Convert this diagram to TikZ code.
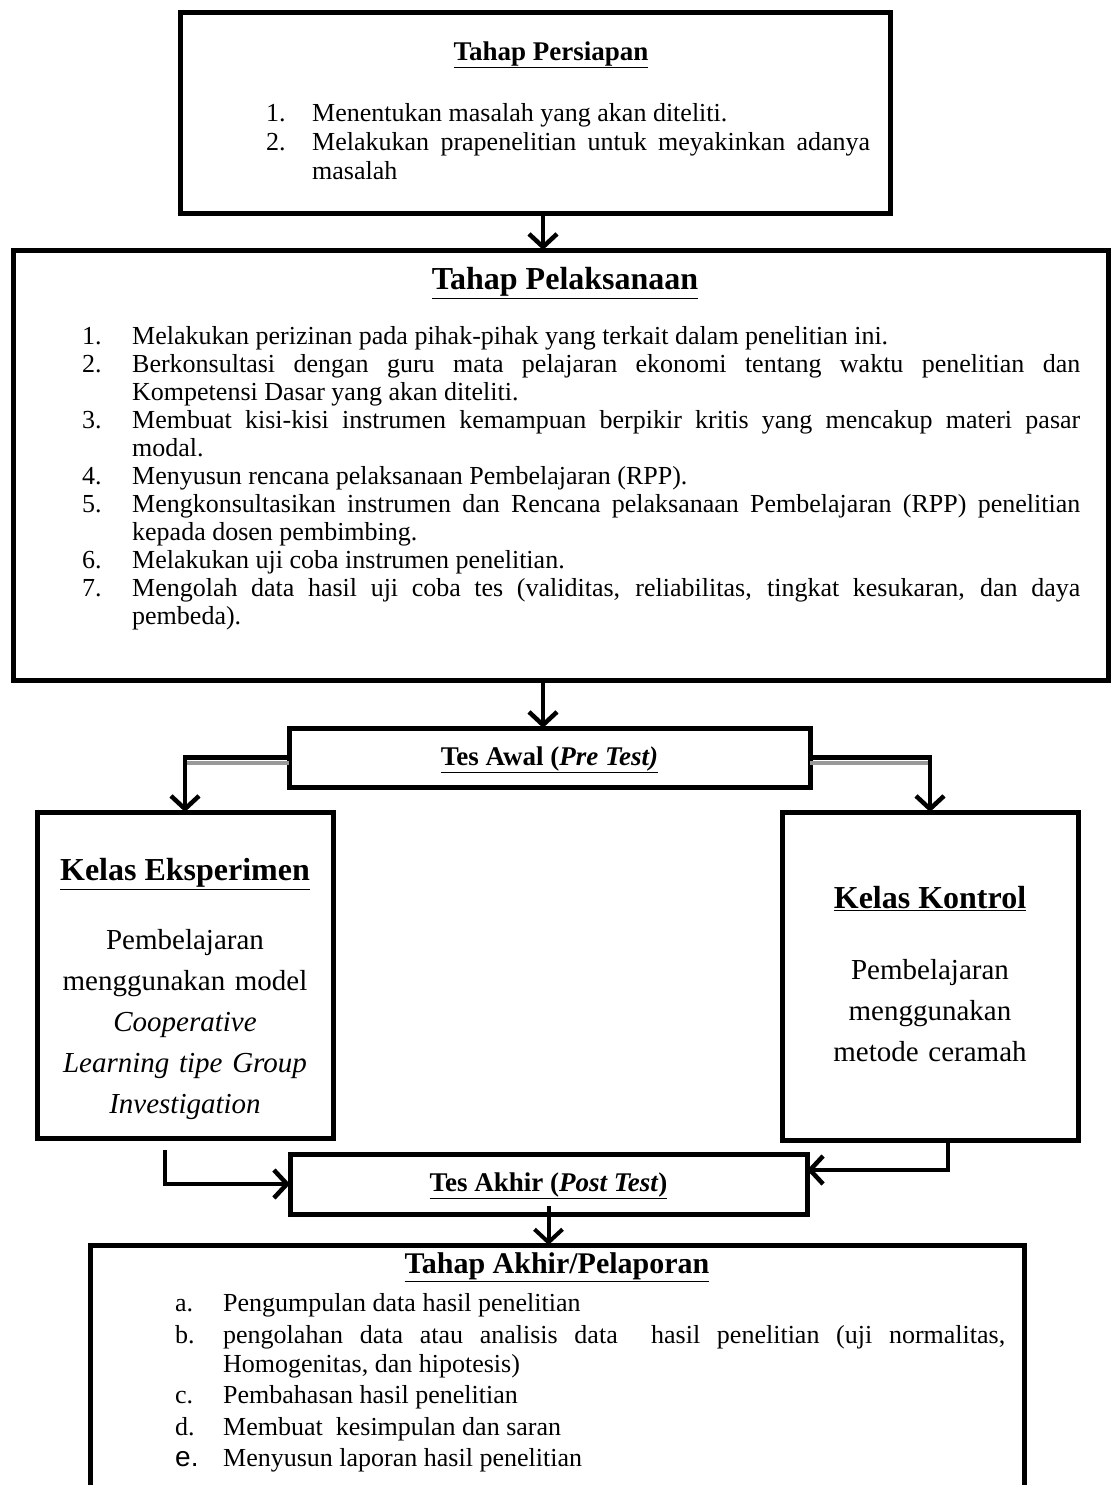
\documentclass[tikz,border=0pt]{standalone}
\usepackage{fontspec}
\setmainfont{Liberation Serif}
\newfontfamily\labelfont{Liberation Sans}
\usetikzlibrary{positioning, arrows.meta}
\hyphenpenalty=10000
\exhyphenpenalty=10000
\newlength\itmind
\newcommand{\itm}[2]{\par\noindent\hangindent=\itmind\hangafter=1\makebox[\itmind][l]{#1}#2}

\begin{document}
\begin{tikzpicture}[x=1pt, y=-1pt,
  bx/.style={draw, line width=5pt, inner sep=0pt, outer sep=0pt, anchor=north west},
  hd/.style={inner sep=0pt, font=\fontsize{27}{30}\selectfont\bfseries},
  bighd/.style={inner sep=0pt, font=\fontsize{32}{35}\selectfont\bfseries},
  lst/.style={inner sep=0pt, anchor=base west, align=justify, font=\fontsize{26}{28}\selectfont},
  body/.style={inner sep=0pt, anchor=north, align=center, font=\fontsize{29}{41}\selectfont},
  arr/.style={line width=4.5pt, -{Straight Barb[length=13pt, width=28pt]}},
  shd/.style={draw=black!40, line width=4pt}]
\useasboundingbox (0,0) rectangle (1113,1485);

% boxes
\node[bx, minimum width=710pt, minimum height=200pt] at (180,13) (prep) {};
\node[bx, minimum width=1095pt, minimum height=430pt] at (13,250) (plk) {};
\node[bx, minimum width=521pt, minimum height=59pt] at (289,728) (tesawal) {};
\node[bx, minimum width=296pt, minimum height=326pt] at (37,812) (eks) {};
\node[bx, minimum width=296pt, minimum height=328pt] at (782,812) (kon) {};
\node[bx, minimum width=517pt, minimum height=60pt] at (290,1154) (tesakhir) {};
\node[bx, minimum width=934pt, minimum height=260pt] at (90,1245) (akhir) {};

% Tahap Persiapan
\node[hd] at (551,55) (prephd) {\underline{Tahap Persiapan}};
\node[lst, text width=604pt, font=\fontsize{26}{29}\selectfont] at (266,93) (preplst) {\setlength\itmind{46pt}%
  \itm{1.}{Menentukan masalah yang akan diteliti.}
  \itm{2.}{Melakukan prapenelitian untuk meyakinkan adanya\linebreak masalah}\par};

% Tahap Pelaksanaan
\node[bighd] at (565,283) (plkhd) {\underline{Tahap Pelaksanaan}};
\node[lst, text width=998pt] at (82,316) (plklst) {\setlength\itmind{50pt}%
  \itm{1.}{Melakukan perizinan pada pihak-pihak yang terkait dalam penelitian ini.}
  \itm{2.}{Berkonsultasi dengan guru mata pelajaran ekonomi tentang waktu penelitian dan\linebreak Kompetensi Dasar yang akan diteliti.}
  \itm{3.}{Membuat kisi-kisi instrumen kemampuan berpikir kritis yang mencakup materi pasar\linebreak modal.}
  \itm{4.}{Menyusun rencana pelaksanaan Pembelajaran (RPP).}
  \itm{5.}{Mengkonsultasikan instrumen dan Rencana pelaksanaan Pembelajaran (RPP) penelitian\linebreak kepada dosen pembimbing.}
  \itm{6.}{Melakukan uji coba instrumen penelitian.}
  \itm{7.}{Mengolah data hasil uji coba tes (validitas, reliabilitas, tingkat kesukaran, dan daya\linebreak pembeda).}\par};

% tes awal / akhir
\node[hd] at ([yshift=-2pt]tesawal.center) (awalhd) {\underline{Tes Awal (\textit{Pre Test)}}};
\node[hd] at ([yshift=-2pt]tesakhir.center) (akhirhd) {\underline{Tes Akhir (\textit{Post Test})}};

% kelas
\node[bighd] at (185,874) (ekshd) {\underline{Kelas Eksperimen}};
\node[body, text width=290pt] at (185,929) (eksbody) {Pembelajaran\\ menggunakan model\\ \textit{Cooperative}\\ \textit{Learning tipe Group}\\ \textit{Investigation}};
\node[bighd] at (930,899) (konhd) {\underline{Kelas Kontrol}};
\node[body, text width=290pt] at (930,959) (konbody) {Pembelajaran\\ menggunakan\\ metode ceramah};

% Tahap Akhir
\node[bighd, font=\fontsize{30}{33}\selectfont\bfseries] at (557,1267) (akhirhd2) {\underline{Tahap Akhir/Pelaporan}};
\node[lst, text width=830pt, font=\fontsize{26}{29}\selectfont] at (175,1280) (akhirlst) {\setlength\itmind{48pt}\setlength\parskip{2.5pt}%
  \itm{a.}{Pengumpulan data hasil penelitian}
  \itm{b.}{pengolahan data atau analisis data\ \ hasil penelitian (uji normalitas,\linebreak Homogenitas, dan hipotesis)}
  \itm{c.}{Pembahasan hasil penelitian}
  \itm{d.}{Membuat\ \ kesimpulan dan saran}
  \itm{{\labelfont\fontsize{28}{29}\selectfont e.}}{Menyusun laporan hasil penelitian}\par};

% connectors
\draw[arr] ([xshift=8pt]prep.south) -- ([xshift=8pt]prep.south |- plk.north);
\draw[arr] ([xshift=8pt]plk.south -| prep.south) -- ([xshift=8pt]tesawal.north -| prep.south);
\draw[shd] ([yshift=-5pt]tesawal.west) -- ([yshift=-5pt]tesawal.west -| eks.north);
\draw[shd] ([yshift=-5pt]tesawal.east) -- ([yshift=-5pt]tesawal.east -| kon.north);
\draw[arr] (tesawal.west) -| (eks.north);
\draw[arr] (tesawal.east) -| (kon.north);
\draw[arr] ([xshift=-20pt, yshift=-12pt]eks.south) |- (tesakhir.west);
\draw[arr] ([xshift=18pt]kon.south) |- ([yshift=14pt]tesakhir.east);
\draw[arr, line width=4pt] ([yshift=8pt]tesakhir.south) -- (tesakhir.south |- akhir.north);

\end{tikzpicture}
\end{document}
